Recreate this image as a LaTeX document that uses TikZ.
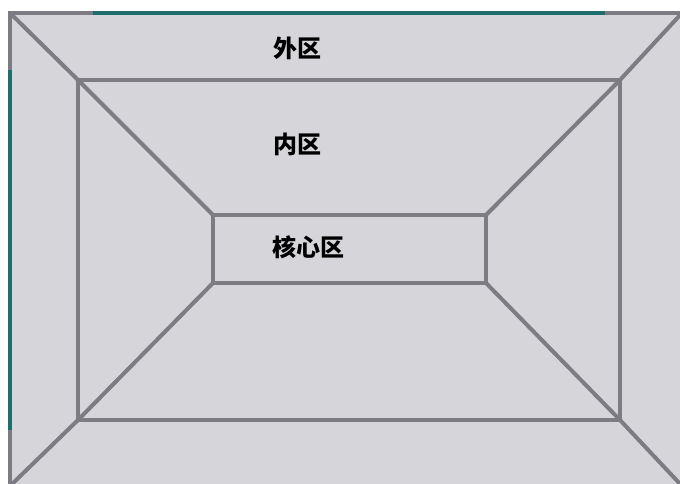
\documentclass[tikz,border=0pt]{standalone}
\usepackage{fontspec}
\newfontfamily\cjk{Noto Sans CJK SC}
\definecolor{bgfill}{RGB}{214,214,218}
\definecolor{linegray}{RGB}{124,124,130}
\definecolor{tealc}{RGB}{30,110,110}
\begin{document}
\begin{tikzpicture}[x=1pt,y=-1pt,
  edge/.style={draw=linegray,line width=4pt},
  tealedge/.style={draw=tealc,line width=4pt},
  lbl/.style={font=\cjk\bfseries\fontsize{24}{24}\selectfont,text=black,inner sep=0pt}]
\useasboundingbox (0,0) rectangle (680,484);
\fill[white] (0,0) rectangle (680,484);
\fill[bgfill] (8,11) rectangle (684,488);
% outer corners
\coordinate (o1) at (10,13);
\coordinate (o2) at (682,13);
\coordinate (o3) at (682,486);
\coordinate (o4) at (10,486);
% inner rectangle
\coordinate (i1) at (78,80);
\coordinate (i2) at (620,80);
\coordinate (i3) at (620,420);
\coordinate (i4) at (78,420);
% core rectangle
\coordinate (c1) at (213,215);
\coordinate (c2) at (486,215);
\coordinate (c3) at (486,283);
\coordinate (c4) at (213,283);
% outer frame
\draw[edge] (o4) -- (o1) -- (o2);
\draw[tealedge] (93,13) -- (605,13);
\draw[tealedge] (10,70) -- (10,430);
% inner and core rectangles
\draw[edge] (i1) -- (i2) -- (i3) -- (i4) -- cycle;
\draw[edge] (c1) -- (c2) -- (c3) -- (c4) -- cycle;
% diagonals
\draw[edge] (o1) -- (i1) -- (c1);
\draw[edge] (o2) -- (i2) -- (c2);
\draw[edge] (o3) -- (i3) -- (c3);
\draw[edge] (o4) -- (i4) -- (c4);
% labels
\node[lbl] (outer) at (297,48) {外区};
\node[lbl] (inner) at (297,144) {内区};
\node[lbl] (core) at (308,247) {核心区};
\end{tikzpicture}
\end{document}
